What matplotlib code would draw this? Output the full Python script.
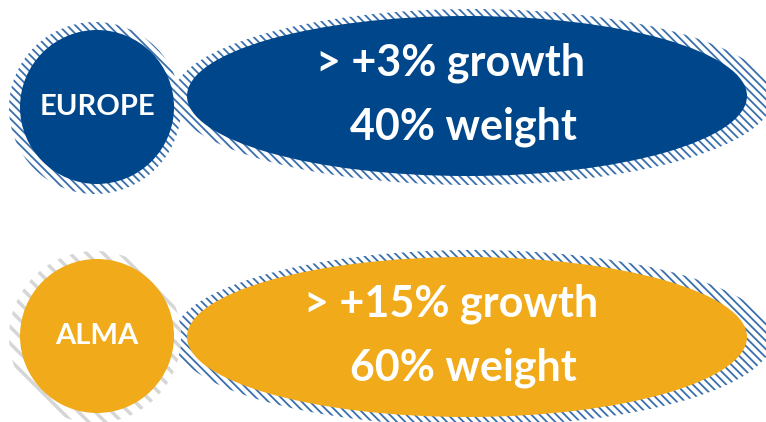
import matplotlib.pyplot as plt
from matplotlib.patches import Ellipse, Circle

# data
regions = ['EUROPE', 'ALMA']
growth = [3, 15]
weight = [40, 60]
colors = ['#00468B', '#F0AA1A']
ring_colors = ['#3A6FAE', '#D6D6D6']

plt.rcParams['hatch.linewidth'] = 1.3

fig = plt.figure(figsize=(7.66, 4.22), dpi=100)
ax = fig.add_axes([0, 0, 1, 1])
ax.set_xlim(0, 766)
ax.set_ylim(422, 0)
ax.axis('off')

ell_y = [96, 337]
circ_y = [107, 336]
for i, name in enumerate(regions):
    ey = ell_y[i]
    cy = circ_y[i]
    # hatched halo behind the ellipse
    ax.add_patch(Ellipse((473, ey + 1), 600, 176, facecolor='white',
                         edgecolor='#3A6FAE', hatch='\\\\\\\\', lw=0, zorder=1))
    # hatched halo behind the circle
    hatch = '\\\\\\\\' if i == 0 else '\\\\'
    ring = Circle((95, cy + 1), 86, facecolor='white',
                  edgecolor=ring_colors[i], hatch=hatch, lw=0, zorder=2)
    if i == 1 and hasattr(ring, 'set_hatch_linewidth'):
        ring.set_hatch_linewidth(2.5)
    ax.add_patch(ring)
    ax.add_patch(Ellipse((467, ey), 560, 160, facecolor=colors[i],
                         lw=0, zorder=3))
    ax.add_patch(Circle((97, cy), 77, facecolor=colors[i], lw=0, zorder=4))

    ax.text(97, cy, name, color='white', fontsize=21, fontweight='bold',
            family='Lato', ha='center', va='center', zorder=5)
    ax.text(451, ey - 33, '> +%d%% growth' % growth[i], color='white',
            fontsize=31, fontweight='bold', family='Lato',
            ha='center', va='center', zorder=5)
    ax.text(463, ey + 31, '%d%% weight' % weight[i], color='white',
            fontsize=31, fontweight='bold', family='Lato',
            ha='center', va='center', zorder=5)

fig.savefig('out.png', dpi=100)
